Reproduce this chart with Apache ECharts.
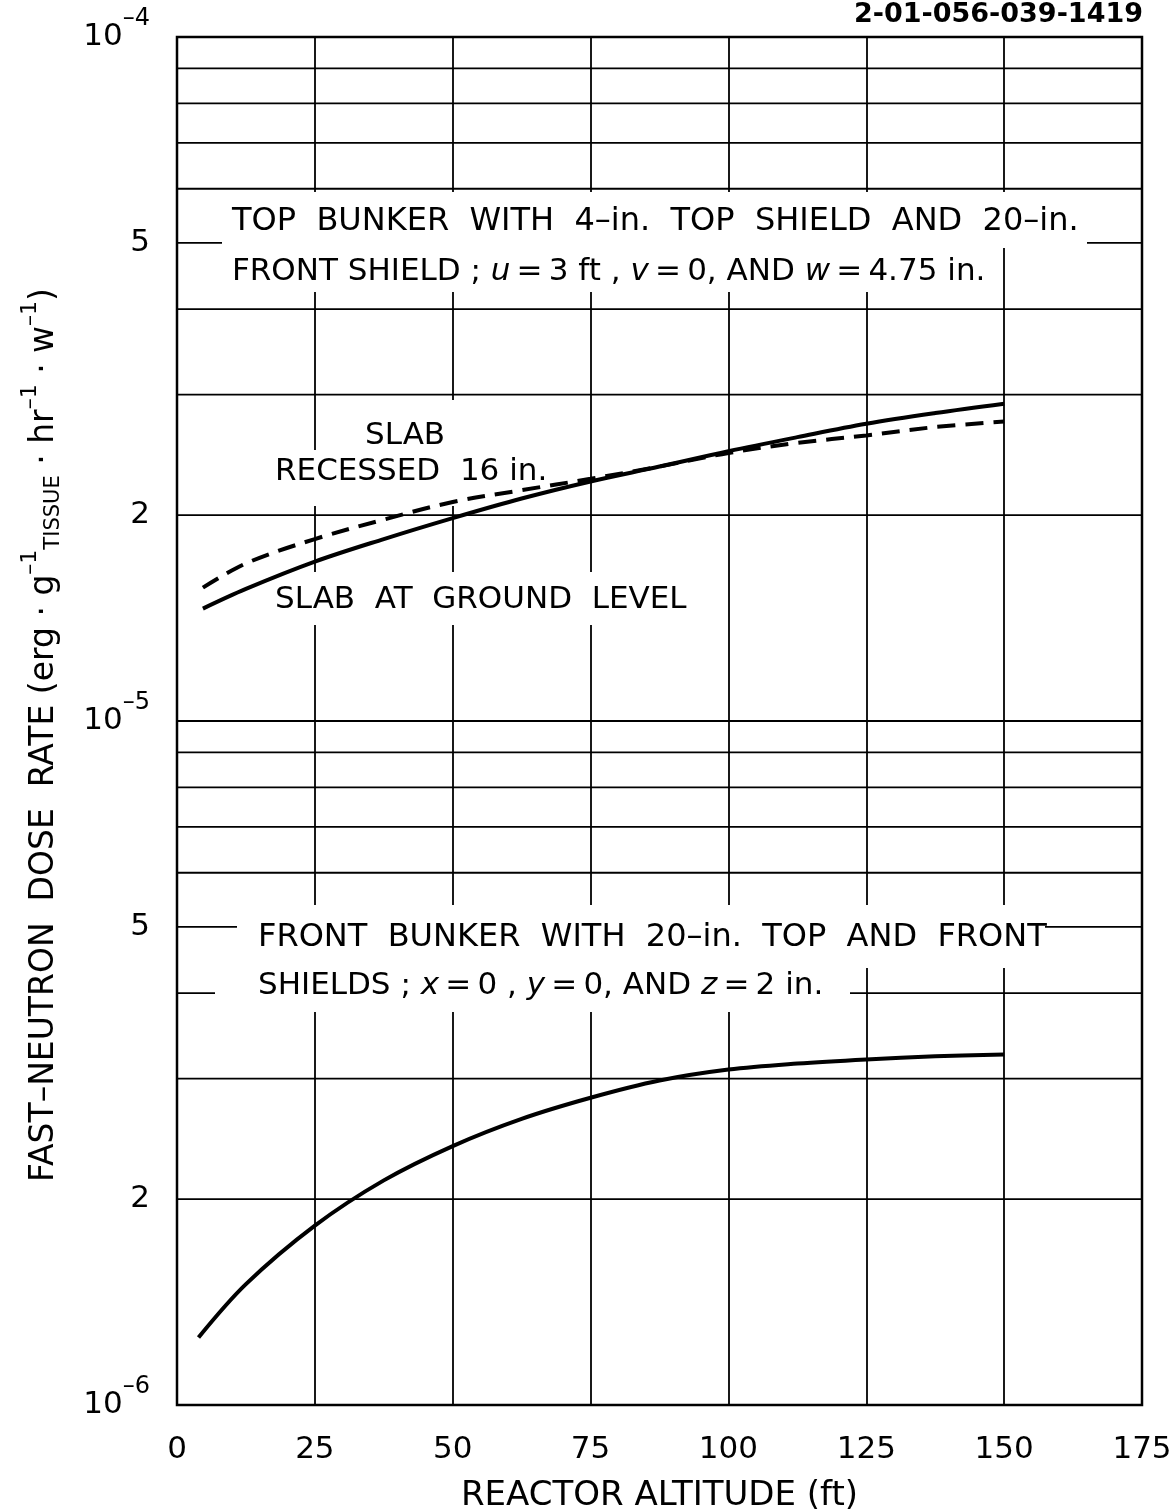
<!DOCTYPE html>
<html><head><meta charset="utf-8">
<script src="https://cdn.jsdelivr.net/npm/echarts@6/dist/echarts.min.js"></script>
<style>html,body{margin:0;padding:0;background:#fff;overflow:hidden}#c{width:1171px;height:1510px}</style>
</head><body><div id="c"></div>
<script>
const FONT = 'DejaVu Sans';

// ---- data ----
const xTicks = [0, 25, 50, 75, 100, 125, 150, 175];
const minorGridValues = [2e-6, 3e-6, 4e-6, 5e-6, 6e-6, 7e-6, 8e-6, 9e-6,
                         2e-5, 3e-5, 4e-5, 5e-5, 6e-5, 7e-5, 8e-5, 9e-5];
const minorLabelValues = [2e-6, 5e-6, 2e-5, 5e-5];
const minorLabelTexts = ['2', '5', '2', '5'];

const topAltitude   = [4.7, 12.5, 25, 37.5, 50, 62.5, 75, 87.5, 100, 112.5, 125, 137.5, 150];
const slabGround    = [1.46e-5, 1.56e-5, 1.71e-5, 1.845e-5, 1.98e-5, 2.115e-5, 2.24e-5, 2.355e-5, 2.48e-5, 2.60e-5, 2.72e-5, 2.82e-5, 2.91e-5];
const slabRecessed  = [1.567e-5, 1.70e-5, 1.845e-5, 1.97e-5, 2.09e-5, 2.175e-5, 2.26e-5, 2.355e-5, 2.465e-5, 2.55e-5, 2.615e-5, 2.69e-5, 2.74e-5];

const frontAltitude = [3.9, 12.5, 25, 37.5, 50, 62.5, 75, 87.5, 100, 112.5, 125, 137.5, 150];
const frontBunker   = [1.255e-6, 1.502e-6, 1.829e-6, 2.13e-6, 2.391e-6, 2.62e-6, 2.813e-6, 2.981e-6, 3.093e-6, 3.157e-6, 3.201e-6, 3.234e-6, 3.255e-6];

const pairs = (xs, ys) => xs.map((x, i) => [x, ys[i]]);

const chart = echarts.init(document.getElementById('c'), null, {renderer: 'canvas'});

const X_MIN = xTicks[0], X_MAX = xTicks[xTicks.length - 1];

const supRich = {
  b: {fontFamily: FONT, fontSize: 31, color: '#000'},
  s: {fontFamily: FONT, fontSize: 24, color: '#000', padding: [0, 0, 36, 0]}
};

const T = '\u2009';
const annText = (x, y, text, size) => ({
  type: 'text', x: x, y: y, z: 10,
  style: {
    text: text, fontFamily: FONT, fontSize: size || 32, fill: '#000',
    verticalAlign: 'middle',
    rich: {
      t: {fontFamily: FONT, fontSize: size || 32, color: '#000'},
      i: {fontFamily: FONT, fontSize: size || 32, fontStyle: 'italic', color: '#000'}
    }
  }
});
const whiteRect = (x, y, w, h) => ({
  type: 'rect', z: 6, shape: {x: x, y: y, width: w, height: h},
  style: {fill: '#fff'}
});

chart.setOption({
  animation: false,
  backgroundColor: '#fff',
  grid: {left: 177, right: 29, top: 37, bottom: 105, show: true, containLabel: false,
         outerBoundsMode: 'none',
         borderColor: '#000', borderWidth: 2.5, backgroundColor: 'transparent'},
  xAxis: {
    type: 'value', min: X_MIN, max: X_MAX, interval: 25,
    name: 'REACTOR ALTITUDE (ft)', nameLocation: 'middle', nameGap: 74,
    nameTextStyle: {fontFamily: FONT, fontSize: 34, color: '#000'},
    axisLine: {show: false}, axisTick: {show: false},
    axisLabel: {fontFamily: FONT, fontSize: 31, color: '#000', margin: 29},
    splitLine: {show: true, lineStyle: {color: '#000', width: 1.8}}
  },
  yAxis: {
    type: 'log', logBase: 10, min: 1e-6, max: 1e-4,
    name: '{t|FAST–NEUTRON  DOSE  RATE (erg · g}{sup|–1}{sub|TISSUE}{t| · hr}{sup|–1}{t| · w}{sup|–1}{t|)}',
    nameLocation: 'middle', nameRotate: 90, nameGap: 108,
    nameTextStyle: {
      fontFamily: FONT, fontSize: 33, color: '#000', padding: [0, 28, 0, 0],
      rich: {
        t: {fontFamily: FONT, fontSize: 33, color: '#000'},
        sup: {fontFamily: FONT, fontSize: 22, color: '#000', padding: [0, 0, 28, 0]},
        sub: {fontFamily: FONT, fontSize: 21, color: '#000', padding: [20, 0, 0, 0]}
      }
    },
    axisLine: {show: false}, axisTick: {show: false},
    axisLabel: {
      margin: 27,
      formatter: v => '{b|10}{s|–' + Math.round(-Math.log10(v)) + '}',
      rich: supRich
    },
    splitLine: {show: true, lineStyle: {color: '#000', width: 1.8}}
  },
  graphic: [
    {type: 'text', right: 28, top: 1, z: 10,
     style: {text: '2-01-056-039-1419', fontFamily: FONT, fontSize: 27, fontWeight: 'bold', fill: '#000'}},
    // white boxes behind annotations
    whiteRect(222, 192, 865, 56),
    whiteRect(222, 248, 773, 44),
    whiteRect(355, 400, 112, 50),
    whiteRect(268, 450, 284, 56),
    whiteRect(268, 572, 428, 53),
    whiteRect(237, 905, 808, 63),
    whiteRect(215, 968, 635, 44),
    // annotation texts
    annText(232, 222, 'TOP  BUNKER  WITH  4–in.  TOP  SHIELD  AND  20–in.'),
    annText(232, 272, '{t|FRONT SHIELD ; }{i|u}{t|' + T + '=' + T + '3 ft , }{i|v}{t|' + T + '=' + T + '0, AND }{i|w}{t|' + T + '=' + T + '4.75 in.}', 31),
    annText(258, 938, 'FRONT  BUNKER  WITH  20–in.  TOP  AND  FRONT'),
    annText(258, 986, '{t|SHIELDS ; }{i|x}{t|' + T + '=' + T + '0 , }{i|y}{t|' + T + '=' + T + '0, AND }{i|z}{t|' + T + '=' + T + '2 in.}', 31),
    annText(365, 436, 'SLAB', 31),
    annText(275, 472, 'RECESSED  16 in.', 31),
    annText(275, 600, 'SLAB  AT  GROUND  LEVEL', 31)
  ],
  series: [
    {
      name: 'minor grid', type: 'custom', z: 1, silent: true, clip: false,
      data: minorGridValues.map(v => [X_MIN, v]),
      encode: {x: 0, y: 1},
      renderItem: (params, api) => {
        const v = api.value(1);
        const p0 = api.coord([X_MIN, v]);
        const p1 = api.coord([X_MAX, v]);
        const children = [{
          type: 'line', shape: {x1: p0[0], y1: p0[1], x2: p1[0], y2: p1[1]},
          style: {stroke: '#000', lineWidth: 1.8}
        }];
        const idx = minorLabelValues.indexOf(minorGridValues[params.dataIndex]);
        if (idx >= 0) {
          children.push({
            type: 'text', x: p0[0] - 27, y: p0[1],
            style: {text: minorLabelTexts[idx], fontFamily: FONT, fontSize: 31, fill: '#000',
                    align: 'right', verticalAlign: 'middle'}
          });
        }
        return {type: 'group', children: children};
      }
    },
    {
      name: 'Slab at ground level', type: 'line', z: 8, smooth: 0.35, showSymbol: false,
      lineStyle: {color: '#000', width: 4}, data: pairs(topAltitude, slabGround)
    },
    {
      name: 'Slab recessed 16 in.', type: 'line', z: 8, smooth: 0.35, showSymbol: false,
      lineStyle: {color: '#000', width: 4, type: [18, 10]}, data: pairs(topAltitude, slabRecessed)
    },
    {
      name: 'Front bunker', type: 'line', z: 8, smooth: 0.35, showSymbol: false,
      lineStyle: {color: '#000', width: 4}, data: pairs(frontAltitude, frontBunker)
    }
  ]
});
</script></body></html>
